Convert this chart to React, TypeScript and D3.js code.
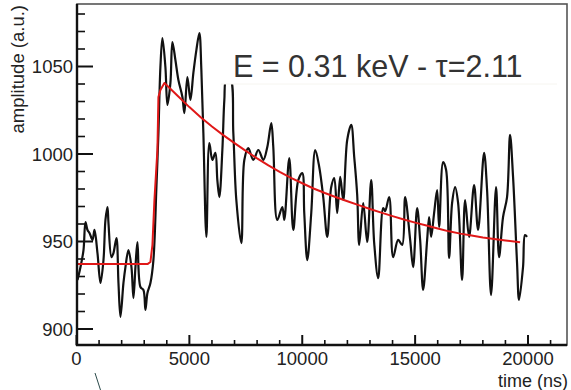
import React from "react";
import * as d3 from "d3";

const traceTime = [44,177,310,398,487,575,708,797,929,1062,1195,1283,1372,1416,1549,1637,1770,1859,1947,2080,2168,2301,2434,2522,2611,2699,2832,2965,3053,3142,3275,3407,3540,3629,3717,3806,3938,4027,4160,4248,4381,4514,4691,4779,4912,5045,5177,5310,5443,5531,5620,5753,5885,6018,6151,6239,6328,6461,6549,6638,6815,6947,7080,7301,7434,7611,7832,8054,8275,8452,8629,8717,8894,9116,9204,9425,9602,9824,10001,10089,10222,10399,10576,10753,10930,11107,11284,11417,11549,11682,11815,11992,12169,12302,12434,12523,12700,12877,13054,13187,13364,13585,13673,13850,14027,14249,14426,14558,14780,14912,15089,15222,15355,15532,15620,15709,15842,15974,16063,16240,16373,16505,16638,16771,16904,17081,17213,17390,17612,17789,18054,18187,18364,18585,18718,18895,19072,19205,19338,19515,19603,19780,19868,19957];
const traceAmp = [928.0,935.4,945.1,961.1,956.6,954.9,950.9,956.6,943.4,926.3,939.4,962.3,969.7,960.6,941.1,943.4,952.0,926.3,906.9,926.3,935.4,945.1,935.4,917.7,935.4,949.7,924.0,922.3,910.9,920.6,926.3,939.4,981.1,1012.0,1049.7,1066.3,1049.7,1028.0,1040.6,1064.0,1053.7,1042.3,1032.6,1023.4,1044.0,1030.9,1046.3,1059.4,1069.1,1048.0,1012.0,952.6,1006.3,996.6,1000.6,985.1,975.4,1002.3,1030.9,1043.0,1043.0,1012.0,973.7,949.1,996.6,1003.4,996.6,1002.3,996.6,1004.0,1017.7,1004.0,962.3,969.7,962.3,997.7,956.6,985.1,989.1,966.3,939.4,966.3,1002.3,992.6,975.4,952.6,981.1,986.3,966.3,986.9,973.7,1008.0,1016.6,998.3,976.6,948.0,972.0,949.7,985.1,949.1,929.1,969.1,967.4,975.4,941.1,950.9,948.0,975.4,950.9,935.4,969.1,950.9,922.3,950.9,964.0,952.6,966.3,979.4,958.3,995.4,990.9,940.6,972.0,981.1,972.0,928.0,973.7,952.6,982.3,956.6,1000.6,979.4,919.4,981.1,941.1,964.0,975.4,1010.9,986.9,937.7,916.6,935.4,953.7,952.6];

const fitTime = [0,3142,3275,3363,3452,3584,3629,3717,3894,4500,5000,5500,6000,6500,7000,7500,8000,8500,9000,9500,10000,10500,11000,11500,12000,12500,13000,13500,14000,14500,15000,15500,16000,16500,17000,17500,18000,18500,19000,19650];
const fitAmp = [937.1,937.1,938.3,948.0,973.7,1002.3,1032.6,1036.6,1040.6,1033.0,1026.8,1021.0,1015.7,1010.8,1006.2,1001.8,997.5,993.5,989.8,986.4,983.3,980.3,977.7,975.3,973.0,970.8,968.6,966.5,964.5,962.6,960.8,959.1,957.4,955.8,954.5,953.4,952.3,951.4,950.6,949.6];

const xMajor = [0,5000,10000,15000,20000];
const xMinor = [1000,2000,3000,4000,6000,7000,8000,9000,11000,12000,13000,14000,16000,17000,18000,19000,21000];
const yMajor = [900,950,1000,1050];
const yMinor = [910,920,930,940,960,970,980,990,1010,1020,1030,1040,1060,1070,1080];

const xTitle = "time (ns)";
const yTitle = "amplitude (a.u.)";
const label = "E = 0.31 keV - τ=2.11";

export default function App() {
  const W = 571, H = 390;
  const L = 77, R = 567, T = 4, B = 345;
  const x = d3.scaleLinear().domain([0, 20000]).range([76.5, 528]);
  const y = d3.scaleLinear().domain([900, 1050]).range([329, 66.5]);
  const font = "'Liberation Sans', Arial, Helvetica, sans-serif";

  const traceLine = d3.line<number>().x((_, i) => x(traceTime[i])).y((d) => y(d)).curve(d3.curveCatmullRom.alpha(0.5));
  const fitLine = d3.line<number>().x((_, i) => x(fitTime[i])).y((d) => y(d));

  return (
    <svg width={W} height={H} style={{ position: "fixed", left: 0, top: 0, background: "#fff" }} fontFamily={font}>
      <defs>
        <clipPath id="plot">
          <rect x={L} y={T} width={R - L} height={B - T} />
        </clipPath>
      </defs>
      <rect x={0} y={0} width={W} height={H} fill="#fff" />
      <g clipPath="url(#plot)">
        <path d={traceLine(traceAmp) || ""} fill="none" stroke="#111" strokeWidth={2.2} strokeLinejoin="round" />
        <path d={fitLine(fitAmp) || ""} fill="none" stroke="#e01818" strokeWidth={2} strokeLinejoin="round" />
      </g>
      <rect x={221} y={22} width={336} height={62} fill="#fff" stroke="none" />
      <line x1={221} x2={557} y1={84} y2={84} stroke="#f6f5f0" strokeWidth={1} />
      <text x={233} y={77} fontSize={30.5} fill="#333">{label}</text>

      <rect x={L} y={T} width={R - L} height={B - T} fill="none" stroke="#555" strokeWidth={1.6} />
      <line x1={L} x2={L} y1={T} y2={B + 1} stroke="#111" strokeWidth={2.4} />
      <line x1={L - 1} x2={R} y1={B} y2={B} stroke="#111" strokeWidth={2.4} />

      {yMajor.map((v) => (
        <g key={"ym" + v}>
          <line x1={L} x2={L + 16} y1={y(v)} y2={y(v)} stroke="#111" strokeWidth={2} />
          <text x={73} y={y(v)} dy="0.36em" textAnchor="end" fontSize={18.5} fill="#222">{v}</text>
        </g>
      ))}
      {yMinor.map((v) => (
        <line key={"yn" + v} x1={L} x2={L + 8} y1={y(v)} y2={y(v)} stroke="#111" strokeWidth={1.6} />
      ))}
      {xMajor.map((v) => (
        <g key={"xm" + v}>
          <line x1={x(v)} x2={x(v)} y1={B} y2={B - 10} stroke="#111" strokeWidth={2} />
          <text x={x(v)} y={365} textAnchor="middle" fontSize={18.5} fill="#222">{v}</text>
        </g>
      ))}
      {xMinor.map((v) => (
        <line key={"xn" + v} x1={x(v)} x2={x(v)} y1={B} y2={B - 5} stroke="#111" strokeWidth={1.6} />
      ))}

      <text x={498} y={387} fontSize={18} fill="#222">{xTitle}</text>
      <text transform="translate(24,5) rotate(-90)" textAnchor="end" fontSize={18.5} fill="#222">{yTitle}</text>
      <line x1={95} y1={373} x2={100.5} y2={390} stroke="#2b4a4a" strokeWidth={1} />
    </svg>
  );
}
